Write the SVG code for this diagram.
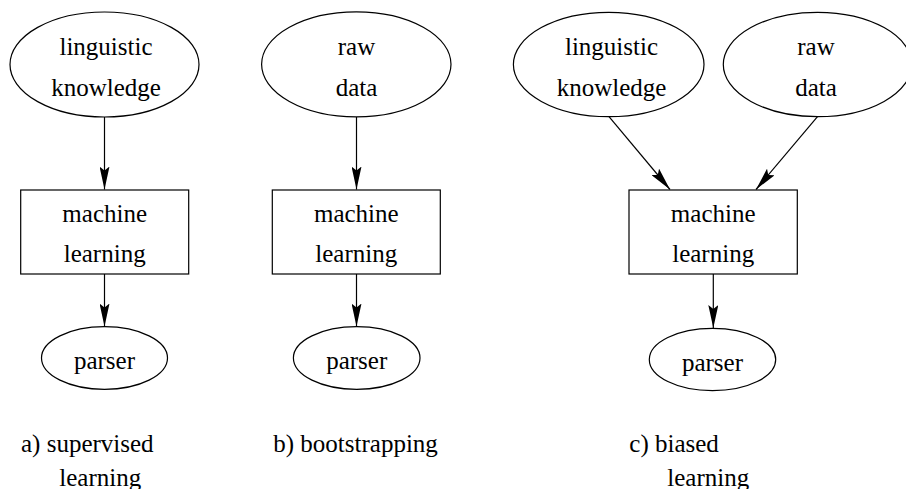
<svg xmlns="http://www.w3.org/2000/svg" width="906" height="489" viewBox="0 0 906 489">
<style>
.shape{fill:#fff;stroke:#000;stroke-width:1.2}
.t{font-family:'Liberation Serif','Times New Roman',serif;font-size:25px;fill:#000}
.m{text-anchor:middle}
.edge{stroke:#000;stroke-width:1.2;fill:none;marker-end:url(#ah)}
</style>
<defs>
<marker id="ah" viewBox="0 0 23 10" refX="23" refY="5" markerWidth="23" markerHeight="10" markerUnits="userSpaceOnUse" orient="auto">
<path d="M0,0 L23,5 L0,10 L4,5 Z" fill="#000"/>
</marker>
</defs>
<rect width="906" height="489" fill="#fff"/>
<g id="connectors">
<line class="edge" x1="104.5" y1="117" x2="104.5" y2="189.5"/>
<line class="edge" x1="104.5" y1="274" x2="104.5" y2="326.5"/>
<line class="edge" x1="356.5" y1="117" x2="356.5" y2="189.5"/>
<line class="edge" x1="356.5" y1="274" x2="356.5" y2="326.5"/>
<line class="edge" x1="609" y1="116.7" x2="670" y2="189.5"/>
<line class="edge" x1="817.5" y1="116.7" x2="756" y2="189.5"/>
<line class="edge" x1="713.3" y1="274" x2="713.3" y2="328"/>
</g>
<g id="a-ling">
<ellipse class="shape" cx="104.5" cy="64.5" rx="94.5" ry="52.5"/>
<text class="t m" x="106" y="55">linguistic</text>
<text class="t m" x="106" y="96">knowledge</text>
</g>
<g id="a-ml">
<rect class="shape" x="20.7" y="190" width="168" height="84"/>
<text class="t m" x="104.7" y="222">machine</text>
<text class="t m" x="104.7" y="262">learning</text>
</g>
<g id="a-parser">
<ellipse class="shape" cx="104.5" cy="358" rx="63" ry="31.3"/>
<text class="t m" x="104.5" y="369">parser</text>
</g>
<g id="b-raw">
<ellipse class="shape" cx="356.3" cy="64.3" rx="94.7" ry="52.5"/>
<text class="t m" x="356.5" y="55">raw</text>
<text class="t m" x="356.5" y="96">data</text>
</g>
<g id="b-ml">
<rect class="shape" x="272.3" y="190" width="168" height="84"/>
<text class="t m" x="356.3" y="222">machine</text>
<text class="t m" x="356.3" y="262">learning</text>
</g>
<g id="b-parser">
<ellipse class="shape" cx="356.7" cy="358" rx="63.3" ry="31.3"/>
<text class="t m" x="356.7" y="369">parser</text>
</g>
<g id="c-ling">
<ellipse class="shape" cx="608.7" cy="64.5" rx="95.3" ry="52.2"/>
<text class="t m" x="611.5" y="55">linguistic</text>
<text class="t m" x="611.5" y="96">knowledge</text>
</g>
<g id="c-raw">
<ellipse class="shape" cx="817.5" cy="64.5" rx="94.2" ry="52.2"/>
<text class="t m" x="816" y="55">raw</text>
<text class="t m" x="816" y="96">data</text>
</g>
<g id="c-ml">
<rect class="shape" x="629" y="190" width="168.3" height="84"/>
<text class="t m" x="713.2" y="222">machine</text>
<text class="t m" x="713.2" y="262">learning</text>
</g>
<g id="c-parser">
<ellipse class="shape" cx="712.5" cy="359.5" rx="63.2" ry="31.2"/>
<text class="t m" x="712.5" y="370.5">parser</text>
</g>
<g id="captions">
<text class="t" x="21" y="452">a) supervised</text>
<text class="t" x="59.3" y="486">learning</text>
<text class="t" x="273.3" y="452">b) bootstrapping</text>
<text class="t" x="629.3" y="452">c) biased</text>
<text class="t" x="667.3" y="486">learning</text>
</g>
</svg>
